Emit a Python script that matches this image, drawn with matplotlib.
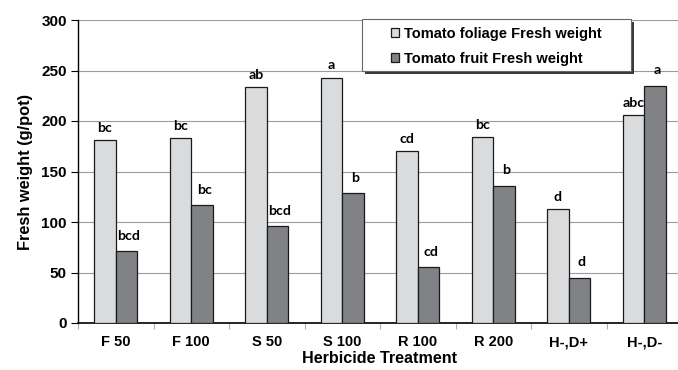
import numpy as np
import matplotlib.pyplot as plt
import matplotlib.transforms as mtransforms
from matplotlib.patches import Rectangle

# data
treatments = ['F 50', 'F 100', 'S 50', 'S 100', 'R 100', 'R 200', 'H-,D+', 'H-,D-']
foliage = [181, 183, 234, 243, 170, 184, 113, 206]
fruit = [71, 117, 96, 129, 55, 136, 45, 235]
foliage_letters = ['bc', 'bc', 'ab', 'a', 'cd', 'bc', 'd', 'abc']
fruit_letters = ['bcd', 'bc', 'bcd', 'b', 'cd', 'b', 'd', 'a']

plt.rcParams['font.family'] = ['Liberation Sans', 'DejaVu Sans']

fig = plt.figure(figsize=(6.78, 3.70), dpi=100)
W, H = 678, 370
ax = fig.add_axes([78 / W, 1 - 323 / H, 604 / W, 303 / H])

x = np.arange(len(treatments))
w = 0.285
ax.bar(x - w / 2, foliage, w, color='#dadbdd', edgecolor='#1a1a1a', linewidth=0.9,
       label='Tomato foliage Fresh weight', zorder=3)
ax.bar(x + w / 2, fruit, w, color='#808286', edgecolor='#1a1a1a', linewidth=0.9,
       label='Tomato fruit Fresh weight', zorder=3)

for i in range(len(x)):
    ax.text(x[i] - w / 2, foliage[i] + 12, foliage_letters[i], ha='center', va='center',
            fontsize=10.2, fontweight='bold', family=['Lato', 'DejaVu Sans'])
    ax.text(x[i] + w / 2 + 0.03, fruit[i] + 15, fruit_letters[i], ha='center', va='center',
            fontsize=10.2, fontweight='bold', family=['Lato', 'DejaVu Sans'])

ax.set_xlim(-0.5, len(x) - 0.5)
ax.set_ylim(0, 300)
ax.set_yticks(np.arange(0, 301, 50))
ax.yaxis.grid(True, color='#9c9c9c', linewidth=0.8, zorder=0)
ax.set_axisbelow(True)

ax.set_xticks(x)
ax.set_xticklabels(treatments, fontsize=10.5, fontweight='bold')
ax.tick_params(axis='x', which='major', length=0, pad=9)
ax.set_xticks(np.arange(-0.5, len(x), 1), minor=True)
ax.tick_params(axis='x', which='minor', length=4, color='#b0b0b0', width=0.8)
ax.tick_params(axis='y', labelsize=11, length=5, width=0.8, pad=3)
for lab in ax.get_yticklabels():
    lab.set_fontweight('bold')

for s in ['top', 'right']:
    ax.spines[s].set_visible(False)
ax.spines['left'].set_linewidth(1.0)
ax.spines['bottom'].set_linewidth(1.2)

ax.set_ylabel('Fresh weight (g/pot)', fontsize=11.8, fontweight='bold', labelpad=6)
ax.set_xlabel('Herbicide Treatment', fontsize=11.6, fontweight='bold', labelpad=1)

# legend frame with shadow, entries drawn by legend without its own frame
box_xy = ((362 - 78) / 604, (323 - 71) / 303)
box_w, box_h = 269 / 604, 52 / 303
shift = mtransforms.ScaledTranslation(2.2 / 72, -2.2 / 72, fig.dpi_scale_trans)
shadow = Rectangle(box_xy, box_w, box_h, transform=ax.transAxes + shift,
                   facecolor='#3a3a3a', edgecolor='none', zorder=5.5, clip_on=False)
frame = Rectangle(box_xy, box_w, box_h, transform=ax.transAxes, facecolor='white',
                  edgecolor='#666666', linewidth=0.8, zorder=6, clip_on=False)
ax.add_patch(shadow)
ax.add_patch(frame)

leg = ax.legend(loc='upper left', bbox_to_anchor=((388 - 78) / 604, (323 - 24) / 303),
                frameon=False, prop={'weight': 'bold', 'size': 10.5},
                handlelength=0.55, handleheight=0.55, handletextpad=0.35,
                borderpad=0.2, labelspacing=0.75, borderaxespad=0)
leg.set_zorder(7)

fig.savefig('out.png', dpi=100)
